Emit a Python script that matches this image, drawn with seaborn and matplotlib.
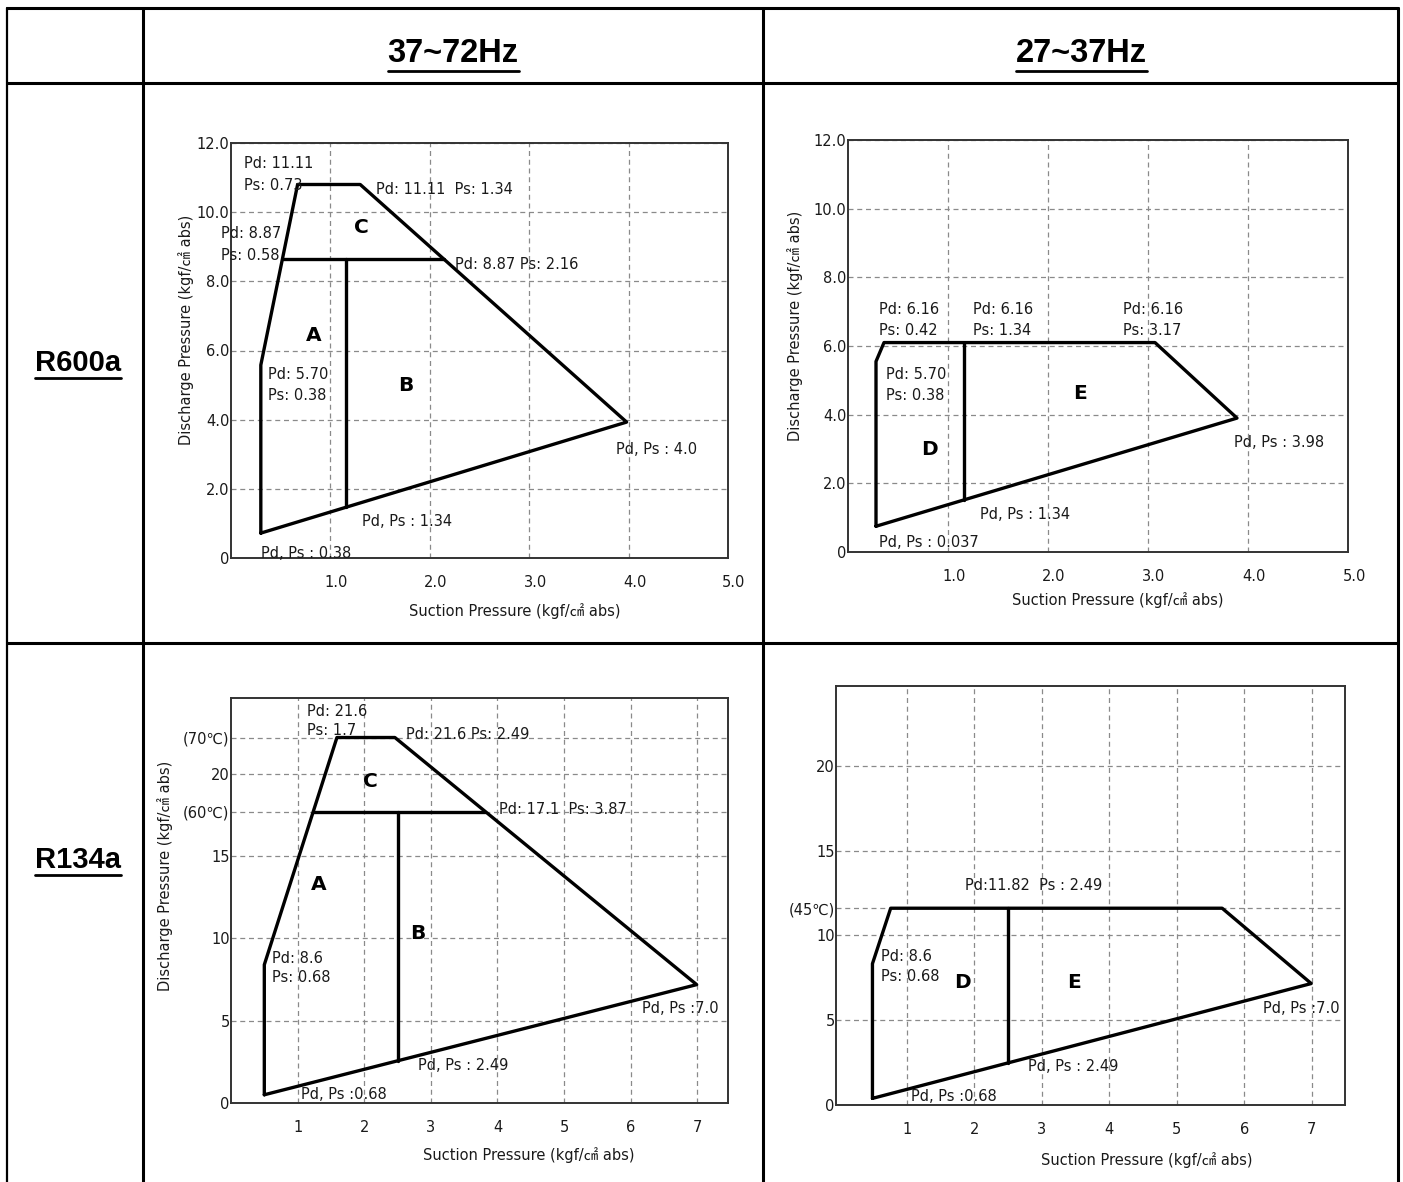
import matplotlib
matplotlib.use("Agg")
import matplotlib.pyplot as plt
import seaborn as sns
import pandas as pd
from matplotlib.transforms import ScaledTranslation

# ---- data: operating envelopes (suction Ps, discharge Pd), kgf/cm2 abs ----
# R600a, 37~72Hz
r600a_hi_ps = [0.30, 0.30, 0.67, 1.30, 3.98, 0.30]
r600a_hi_pd = [0.72, 5.58, 10.80, 10.80, 3.93, 0.72]
r600a_hi_split_ps = [0.52, 2.14]
r600a_hi_split_pd = [8.65, 8.65]
r600a_hi_div_ps = [1.16, 1.16]
r600a_hi_div_pd = [8.65, 1.47]

# R600a, 27~37Hz
r600a_lo_ps = [0.28, 0.28, 0.36, 3.07, 3.89, 0.28]
r600a_lo_pd = [0.75, 5.55, 6.10, 6.10, 3.90, 0.75]
r600a_lo_div_ps = [1.16, 1.16]
r600a_lo_div_pd = [6.10, 1.52]

# R134a, 37~72Hz
r134a_hi_ps = [0.50, 0.50, 1.59, 2.46, 6.99, 0.50]
r134a_hi_pd = [0.50, 8.40, 22.2, 22.2, 7.19, 0.50]
r134a_hi_split_ps = [1.23, 3.82]
r134a_hi_split_pd = [17.7, 17.7]
r134a_hi_div_ps = [2.50, 2.50]
r134a_hi_div_pd = [17.7, 2.56]

# R134a, 27~37Hz
r134a_lo_ps = [0.49, 0.49, 0.76, 5.67, 6.99, 0.49]
r134a_lo_pd = [0.39, 8.33, 11.6, 11.6, 7.16, 0.39]
r134a_lo_div_ps = [2.50, 2.50]
r134a_lo_div_pd = [11.6, 2.48]

# tick labels
r600a_yticks = [0, 2, 4, 6, 8, 10, 12]
r600a_ylabels = ["0", "2.0", "4.0", "6.0", "8.0", "10.0", "12.0"]
r600a_xticks = [1, 2, 3, 4, 5]
r600a_xlabels = ["1.0", "2.0", "3.0", "4.0", "5.0"]
r134a_xticks = [1, 2, 3, 4, 5, 6, 7]
r134a_hi_yticks = [0, 5, 10, 15, 17.7, 20, 22.2]
r134a_hi_ylabels = ["0", "5", "10", "15", "(60℃)", "20", "(70℃)"]
r134a_lo_yticks = [0, 5, 10, 11.6, 15, 20]
r134a_lo_ylabels = ["0", "5", "10", "(45℃)", "15", "20"]

# point notes (x, y, text)
r600a_hi_notes = [
    (0.13, 11.40, "Pd: 11.11"), (0.13, 10.77, "Ps: 0.73"),
    (1.46, 10.65, "Pd: 11.11  Ps: 1.34"),
    (-0.10, 9.37, "Pd: 8.87"), (-0.10, 8.74, "Ps: 0.58"),
    (2.25, 8.50, "Pd: 8.87 Ps: 2.16"),
    (0.37, 5.31, "Pd: 5.70"), (0.37, 4.69, "Ps: 0.38"),
    (3.87, 3.14, "Pd, Ps : 4.0"),
    (1.32, 1.06, "Pd, Ps : 1.34"),
    (0.30, 0.14, "Pd, Ps : 0.38"),
]
r600a_hi_zones = [(0.83, 6.43, "A"), (1.31, 9.57, "C"), (1.76, 4.98, "B")]

r600a_lo_notes = [
    (0.31, 7.05, "Pd: 6.16"), (0.31, 6.45, "Ps: 0.42"),
    (1.25, 7.05, "Pd: 6.16"), (1.25, 6.45, "Ps: 1.34"),
    (2.75, 7.05, "Pd: 6.16"), (2.75, 6.45, "Ps: 3.17"),
    (0.38, 5.16, "Pd: 5.70"), (0.38, 4.55, "Ps: 0.38"),
    (3.86, 3.18, "Pd, Ps : 3.98"),
    (1.32, 1.09, "Pd, Ps : 1.34"),
    (0.31, 0.27, "Pd, Ps : 0.037"),
]
r600a_lo_zones = [(2.32, 4.63, "E"), (0.81, 2.98, "D")]

r134a_hi_notes = [
    (1.14, 23.8, "Pd: 21.6"), (1.14, 22.6, "Ps: 1.7"),
    (2.63, 22.4, "Pd: 21.6 Ps: 2.49"),
    (4.02, 17.8, "Pd: 17.1  Ps: 3.87"),
    (0.61, 8.8, "Pd: 8.6"), (0.61, 7.6, "Ps: 0.68"),
    (6.17, 5.77, "Pd, Ps :7.0"),
    (2.80, 2.27, "Pd, Ps : 2.49"),
    (1.05, 0.50, "Pd, Ps :0.68"),
]
r134a_hi_zones = [(2.09, 19.5, "C"), (1.32, 13.3, "A"), (2.81, 10.3, "B")]

r134a_lo_notes = [
    (1.86, 12.94, "Pd:11.82  Ps : 2.49"),
    (0.61, 8.73, "Pd: 8.6"), (0.61, 7.55, "Ps: 0.68"),
    (6.27, 5.69, "Pd, Ps :7.0"),
    (2.79, 2.25, "Pd, Ps : 2.49"),
    (1.06, 0.49, "Pd, Ps :0.68"),
]
r134a_lo_zones = [(1.83, 7.25, "D"), (3.48, 7.25, "E")]

refrigerants = ["R600a", "R134a"]
speed_bands = ["37~72Hz", "27~37Hz"]

# ---- style ----
sns.set_style("white")
plt.rcParams["font.family"] = ["DejaVu Sans", "Noto Sans CJK KR"]
INK = "#1a1a1a"
W, H = 1403, 1182
FS = 10.5

fig = plt.figure(figsize=(W / 100, H / 100), dpi=100)

# table frame drawn on a full-figure pixel axes
bg = fig.add_axes([0, 0, 1, 1])
bg.set_xlim(0, W)
bg.set_ylim(H, 0)
bg.axis("off")
bg.plot([7, 7], [8, H], color="black", lw=1.6)
bg.plot([7, 1398], [8, 8], color="black", lw=2.2)
for x in [143, 763, 1398]:
    bg.plot([x, x], [8, H], color="black", lw=2.2)
for y in [83, 643]:
    bg.plot([7, 1398], [y, y], color="black", lw=2.2)

band_font = dict(family=["Liberation Sans Narrow", "Liberation Sans", "DejaVu Sans"],
                 weight="bold", fontsize=23.5, ha="center", va="center", color="black")
ref_font = dict(family=["Liberation Sans", "DejaVu Sans"], weight="bold",
                fontsize=21, ha="center", va="center", color="black")
headers = [bg.text(453, 54, speed_bands[0], **band_font),
           bg.text(1081, 54, speed_bands[1], **band_font),
           bg.text(78, 363, refrigerants[0], **ref_font),
           bg.text(78, 860, refrigerants[1], **ref_font)]


def place(left, top, right, bottom):
    return fig.add_axes([left / W, 1 - bottom / H, (right - left) / W, (bottom - top) / H])


def draw_panel(ax, ps, pd_, segments, xlim, ylim, xticks, xlabels, yticks, ylabels,
               notes, zones, ylabel_xy=None, xlabel_xy=(0.57, -0.11), shift_x=0):
    ax.set_axisbelow(True)
    ax.grid(True, ls=(0, (4, 3)), color="#8a8a8a", lw=0.9)
    env = pd.DataFrame({"Ps": ps, "Pd": pd_})
    sns.lineplot(data=env, x="Ps", y="Pd", sort=False, estimator=None,
                 color="black", lw=2.4, ax=ax)
    for sx, sy in segments:
        sns.lineplot(x=sx, y=sy, sort=False, estimator=None,
                     color="black", lw=2.4, ax=ax)
    ax.set_xlim(*xlim)
    ax.set_ylim(*ylim)
    ax.set_xticks(xticks)
    ax.set_xticklabels(xlabels)
    ax.set_yticks(yticks)
    ax.set_yticklabels(ylabels)
    ax.tick_params(length=0, labelsize=FS, colors=INK)
    ax.tick_params(axis="x", pad=12)
    ax.tick_params(axis="y", pad=1)
    if shift_x:
        off = ScaledTranslation(shift_x / 100, 0, fig.dpi_scale_trans)
        for lab in ax.get_xticklabels():
            lab.set_transform(lab.get_transform() + off)
    for s in ax.spines.values():
        s.set_color("#333333")
        s.set_linewidth(1.4)
    ax.set_xlabel("Suction Pressure (kgf/㎠ abs)", fontsize=FS, color=INK)
    ax.xaxis.set_label_coords(*xlabel_xy)
    if ylabel_xy is not None:
        ax.set_ylabel("Discharge Pressure (kgf/㎠ abs)", fontsize=FS, color=INK)
        ax.yaxis.set_label_coords(*ylabel_xy)
    else:
        ax.set_ylabel("")
    for x, y, t in notes:
        ax.text(x, y, t, fontsize=FS, color=INK, ha="left", va="center", clip_on=False)
    for x, y, t in zones:
        ax.text(x, y, t, fontsize=14.5, weight="bold", color="black", ha="center", va="center")


ax1 = place(231, 143, 728, 558)
draw_panel(ax1, r600a_hi_ps, r600a_hi_pd,
           [(r600a_hi_split_ps, r600a_hi_split_pd), (r600a_hi_div_ps, r600a_hi_div_pd)],
           (0, 5), (0, 12), r600a_xticks, r600a_xlabels, r600a_yticks, r600a_ylabels,
           r600a_hi_notes, r600a_hi_zones, ylabel_xy=(-0.075, 0.55),
           xlabel_xy=(0.57, -0.109), shift_x=6)

ax2 = place(848, 140, 1348, 552)
draw_panel(ax2, r600a_lo_ps, r600a_lo_pd,
           [(r600a_lo_div_ps, r600a_lo_div_pd)],
           (0, 5), (0, 12), r600a_xticks, r600a_xlabels, r600a_yticks, r600a_ylabels,
           r600a_lo_notes, r600a_lo_zones, ylabel_xy=(-0.09, 0.55),
           xlabel_xy=(0.54, -0.097), shift_x=6)

ax3 = place(231, 698, 728, 1103)
draw_panel(ax3, r134a_hi_ps, r134a_hi_pd,
           [(r134a_hi_split_ps, r134a_hi_split_pd), (r134a_hi_div_ps, r134a_hi_div_pd)],
           (0, 7.46), (0, 24.6), r134a_xticks, [str(v) for v in r134a_xticks],
           r134a_hi_yticks, r134a_hi_ylabels,
           r134a_hi_notes, r134a_hi_zones, ylabel_xy=(-0.117, 0.56),
           xlabel_xy=(0.60, -0.108))

ax4 = place(836, 686, 1345, 1105)
draw_panel(ax4, r134a_lo_ps, r134a_lo_pd,
           [(r134a_lo_div_ps, r134a_lo_div_pd)],
           (-0.05, 7.49), (0, 24.7), r134a_xticks, [str(v) for v in r134a_xticks],
           r134a_lo_yticks, r134a_lo_ylabels,
           r134a_lo_notes, r134a_lo_zones, ylabel_xy=None,
           xlabel_xy=(0.61, -0.112))

# underline the header labels
fig.canvas.draw()
inv = bg.transData.inverted()
for t in headers:
    bb = t.get_window_extent()
    (x0, y0), (x1, _) = inv.transform([(bb.x0, bb.y0), (bb.x1, bb.y1)])
    bg.plot([x0, x1], [y0 + 1, y0 + 1], color="black", lw=2.0)

fig.savefig("out.png", dpi=100)
